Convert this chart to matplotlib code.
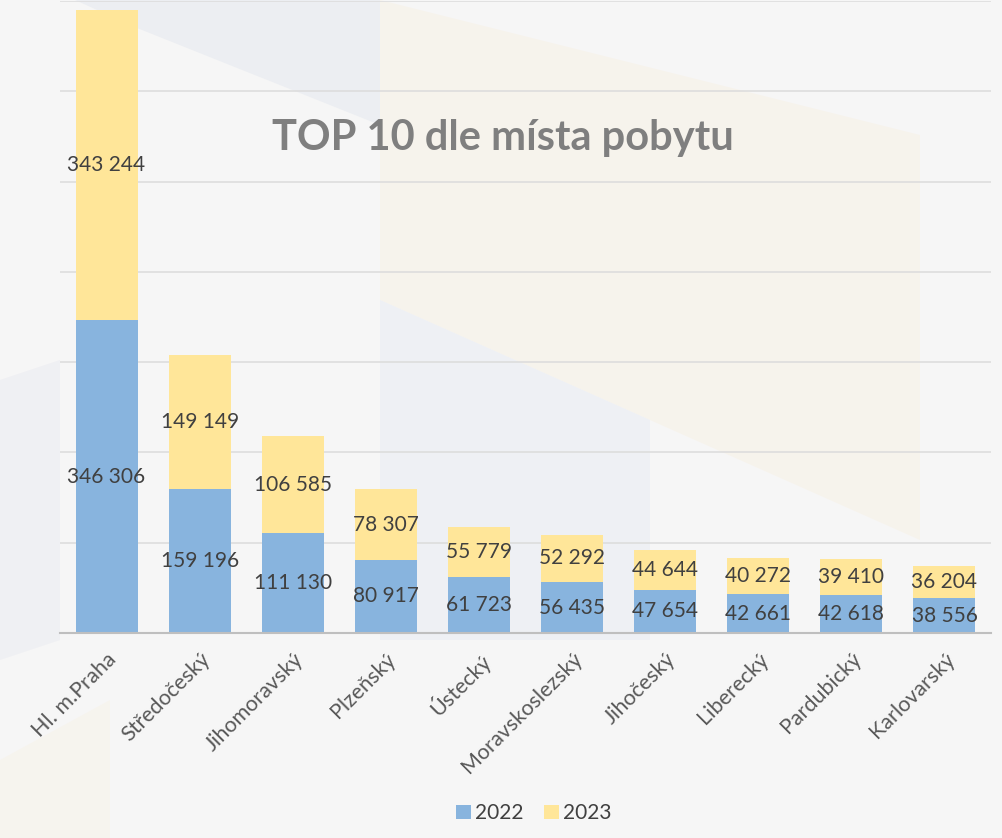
import matplotlib.pyplot as plt
from matplotlib.patches import Polygon
import numpy as np

categories = ["Hl. m.Praha", "Středočeský", "Jihomoravský", "Plzeňský", "Ústecký",
              "Moravskoslezský", "Jihočeský", "Liberecký", "Pardubický", "Karlovarský"]
v2022 = [346306, 159196, 111130, 80917, 61723, 56435, 47654, 42661, 42618, 38556]
v2023 = [343244, 149149, 106585, 78307, 55779, 52292, 44644, 40272, 39410, 36204]

blue = "#88B4DE"
yellow = "#FFE699"

plt.rcParams["font.family"] = ["Lato", "DejaVu Sans"]

fig = plt.figure(figsize=(10.03, 8.38), dpi=100)
fig.patch.set_facecolor("#F6F6F6")

# faint geometric background (figure pixels, origin top-left)
W, H = 1003, 838
shapes = [
    ([(75, 0), (380, 0), (380, 125), (137, 28)], "#ECEEF2"),
    ([(380, 0), (920, 135), (920, 540), (650, 420), (380, 300)], "#F6F3EC"),
    ([(380, 300), (650, 420), (650, 640), (380, 640)], "#EEF0F4"),
    ([(0, 380), (60, 360), (60, 640), (0, 660)], "#EFF0F3"),
    ([(0, 760), (110, 700), (110, 838), (0, 838)], "#F6F4EE"),
]
for pts, col in shapes:
    fig.patches.append(Polygon([(px / W, 1 - py / H) for px, py in pts], closed=True,
                               transform=fig.transFigure, facecolor=col,
                               edgecolor="none", zorder=-10))

ax = fig.add_axes([60 / W, 1 - 633 / H, 931 / W, 632 / H])
ax.set_facecolor("none")

x = np.arange(len(categories))
b1 = ax.bar(x, v2022, width=0.667, color=blue, label="2022", zorder=2)
b2 = ax.bar(x, v2023, width=0.667, bottom=v2022, color=yellow, label="2023", zorder=2)

def fmt(v):
    return f"{v:,}".replace(",", " ")

for i in range(len(categories)):
    ax.text(x[i], v2022[i] / 2, fmt(v2022[i]), ha="center", va="center",
            fontsize=15, color="#404040", zorder=3)
    ax.text(x[i], v2022[i] + v2023[i] / 2, fmt(v2023[i]), ha="center", va="center",
            fontsize=15, color="#404040", zorder=3)

ax.set_ylim(0, 700000)
ax.set_xlim(-0.5, len(categories) - 0.5)
ax.set_yticks(np.arange(0, 700001, 100000))
ax.yaxis.grid(True, color="#DDDDDD", linewidth=1.2, zorder=0)
ax.set_axisbelow(True)
ax.tick_params(axis="y", left=False, labelleft=False)
ax.tick_params(axis="x", bottom=False, pad=8)
for s in ["top", "right", "left"]:
    ax.spines[s].set_visible(False)
ax.spines["bottom"].set_color("#BFBFBF")
ax.spines["bottom"].set_linewidth(1.5)

ax.set_xticks(x)
ax.set_xticklabels(categories, rotation=45, ha="right", rotation_mode="anchor",
                   fontsize=15.5, color="#595959")

fig.text(503 / W, 1 - 138 / H, "TOP 10 dle místa pobytu", ha="center", va="center",
         fontsize=30, fontweight="bold", color="#7F7F7F")

fig.legend(handles=[b1, b2], labels=["2022", "2023"], loc="lower center",
           bbox_to_anchor=(0.532, -0.005), ncol=2, frameon=False, fontsize=15,
           handlelength=0.7, handleheight=0.7, handletextpad=0.2, columnspacing=1.0,
           labelcolor="#404040")

fig.savefig("out.png", dpi=100, facecolor=fig.get_facecolor())
